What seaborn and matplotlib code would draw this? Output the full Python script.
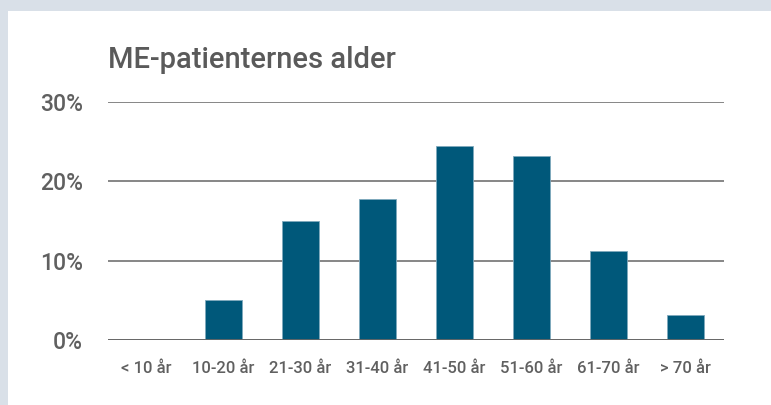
import pandas as pd
import matplotlib.pyplot as plt
import seaborn as sns
from matplotlib.patches import Rectangle

# age groups and share of patients (%)
age_groups = ["< 10 år", "10-20 år", "21-30 år", "31-40 år", "41-50 år", "51-60 år", "61-70 år", "> 70 år"]
shares = [0.0, 5.0, 15.0, 17.8, 24.5, 23.2, 11.2, 3.2]
y_ticks = [0, 10, 20, 30]

df = pd.DataFrame({"Alder": age_groups, "Andel": shares})

sns.set_theme(style="white")
plt.rcParams["font.family"] = ["Roboto", "DejaVu Sans"]

fig = plt.figure(figsize=(7.71, 4.05), dpi=100, facecolor="#d9e0e8")
fig.patches.append(Rectangle((8/771, 0), 1, 1 - 11/405, transform=fig.transFigure,
                             facecolor="white", edgecolor="none", zorder=-5))

ax = fig.add_axes([108/771, 1 - 340/405, 616/771, 238/405])
ax.set_facecolor("white")

sns.barplot(data=df, x="Alder", y="Andel", color="#00587a", width=0.48,
            edgecolor="#7fa9bd", linewidth=0.6, saturation=1, ax=ax, zorder=3)

ax.set_ylim(0, 30)
ax.set_xlim(-0.5, 7.5)
ax.set_yticks(y_ticks)
ax.set_yticklabels([f"{t}%" for t in y_ticks], fontweight="medium")
ax.set_xticks(range(len(age_groups)))
ax.set_xticklabels(age_groups, fontweight="medium")
ax.yaxis.grid(True, color="#666666", linewidth=1.1, zorder=1)
ax.set_axisbelow(True)
for s in ax.spines.values():
    s.set_visible(False)
ax.axhline(0, color="#666666", linewidth=1.3, zorder=4)
ax.tick_params(axis="y", length=0, pad=18, labelsize=16.5, labelcolor="#606060")
ax.tick_params(axis="x", length=0, pad=15, labelsize=12, labelcolor="#606060")
ax.set_xlabel("")
ax.set_ylabel("")

fig.text(108/771, 1 - 60/405, "ME-patienternes alder", fontsize=21, color="#5a5a5a",
         fontweight="medium", ha="left", va="center")

fig.savefig("out.png", dpi=100, facecolor=fig.get_facecolor())
